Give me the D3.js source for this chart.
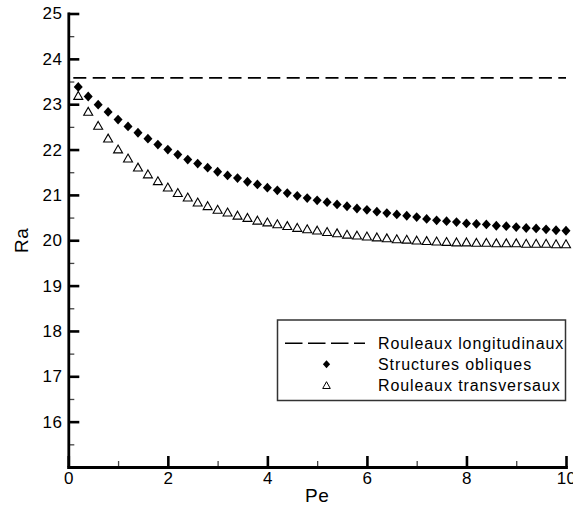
<!DOCTYPE html>
<html>
<head>
<meta charset="utf-8">
<script src="https://cdn.jsdelivr.net/npm/d3@7"></script>
<style>
  body { margin: 0; background: #fff; }
  svg { display: block; font-family: "Liberation Sans", Arial, Helvetica, sans-serif; }
</style>
</head>
<body>
<svg id="chart" width="573" height="508"></svg>
<script>
// data
const pe = [0.2, 0.4, 0.6, 0.8, 1.0, 1.2, 1.4, 1.6, 1.8, 2.0,
            2.2, 2.4, 2.6, 2.8, 3.0, 3.2, 3.4, 3.6, 3.8, 4.0,
            4.2, 4.4, 4.6, 4.8, 5.0, 5.2, 5.4, 5.6, 5.8, 6.0,
            6.2, 6.4, 6.6, 6.8, 7.0, 7.2, 7.4, 7.6, 7.8, 8.0,
            8.2, 8.4, 8.6, 8.8, 9.0, 9.2, 9.4, 9.6, 9.8, 10.0];
const raObliques = [23.38, 23.17, 22.99, 22.83, 22.66, 22.51, 22.37, 22.24, 22.11, 22.00,
                    21.89, 21.78, 21.69, 21.60, 21.51, 21.43, 21.37, 21.29, 21.23, 21.16,
                    21.10, 21.04, 20.98, 20.93, 20.88, 20.84, 20.79, 20.75, 20.70, 20.67,
                    20.63, 20.60, 20.57, 20.54, 20.51, 20.47, 20.44, 20.42, 20.40, 20.37,
                    20.36, 20.35, 20.32, 20.31, 20.29, 20.27, 20.26, 20.24, 20.22, 20.21];
const raTransversaux = [23.19, 22.84, 22.53, 22.25, 22.01, 21.81, 21.61, 21.46, 21.31, 21.17,
                        21.05, 20.95, 20.84, 20.76, 20.68, 20.62, 20.55, 20.50, 20.44, 20.40,
                        20.36, 20.32, 20.28, 20.25, 20.22, 20.19, 20.16, 20.13, 20.11, 20.09,
                        20.07, 20.05, 20.03, 20.02, 20.00, 19.99, 19.98, 19.97, 19.96, 19.96,
                        19.95, 19.95, 19.94, 19.94, 19.94, 19.93, 19.93, 19.93, 19.92, 19.92];
const raLongitudinaux = 23.58;

const xMajor = [0, 2, 4, 6, 8, 10];
const xMinor = [1, 3, 5, 7, 9];
const yMajor = [16, 17, 18, 19, 20, 21, 22, 23, 24, 25];
const yMinor = [15.5, 16.5, 17.5, 18.5, 19.5, 20.5, 21.5, 22.5, 23.5, 24.5];

const legendLabels = ["Rouleaux longitudinaux", "Structures obliques", "Rouleaux transversaux"];

function init() {
    const svg = d3.select("#chart");

    const x = d3.scaleLinear().domain([0, 10]).range([68.3, 566]);
    const y = d3.scaleLinear().domain([15, 25]).range([467, 13.5]);

    // minor ticks first, under everything
    svg.append("g")
        .attr("transform", "translate(68.3,0)")
        .call(d3.axisLeft(y).tickValues(yMinor).tickFormat("").tickSizeInner(-6).tickSizeOuter(0))
        .call(g => g.select(".domain").remove())
        .call(g => g.selectAll("line").attr("stroke", "#444").attr("stroke-width", 1.3));

    svg.append("g")
        .attr("transform", "translate(0,467)")
        .call(d3.axisBottom(x).tickValues(xMinor).tickFormat("").tickSizeInner(-6).tickSizeOuter(0))
        .call(g => g.select(".domain").remove())
        .call(g => g.selectAll("line").attr("stroke", "#444").attr("stroke-width", 1.3));

    // major axes
    const yAxis = svg.append("g")
        .attr("transform", "translate(68.3,0)")
        .call(d3.axisLeft(y).tickValues(yMajor).tickSizeInner(-11).tickSizeOuter(0).tickPadding(6));

    const xAxis = svg.append("g")
        .attr("transform", "translate(0,467)")
        .call(d3.axisBottom(x).tickValues(xMajor).tickFormat(d3.format("d")).tickSizeInner(-11).tickSizeOuter(0).tickPadding(5));

    [yAxis, xAxis].forEach(g => {
        g.select(".domain").attr("stroke", "#000").attr("stroke-width", 2.8).attr("stroke-linecap", "square");
        g.selectAll(".tick line").attr("stroke", "#000").attr("stroke-width", 2.6);
        g.selectAll(".tick text")
            .attr("fill", "#000")
            .style("font-size", "17px")
            .style("letter-spacing", "0.4px")
            .style("font-family", "'Liberation Sans', Arial, sans-serif");
    });

    // axis titles
    svg.append("text")
        .attr("x", x(5))
        .attr("y", 501.5)
        .attr("text-anchor", "middle")
        .style("font-size", "19px")
        .style("letter-spacing", "0.5px")
        .text("Pe");

    svg.append("text")
        .attr("transform", `translate(28.3,${y(20)}) rotate(-90)`)
        .attr("text-anchor", "middle")
        .style("font-size", "19px")
        .style("letter-spacing", "0.5px")
        .text("Ra");

    // dashed horizontal line
    svg.append("line")
        .attr("x1", x(0) + 5)
        .attr("x2", x(10))
        .attr("y1", y(raLongitudinaux))
        .attr("y2", y(raLongitudinaux))
        .attr("stroke", "#000")
        .attr("stroke-width", 1.6)
        .attr("stroke-dasharray", "13,6.4");

    const diamond = "M0,-4.9L4.5,0L0,4.9L-4.5,0Z";
    const triangle = "M0,-4.1L4.5,3.8L-4.5,3.8Z";

    svg.append("g")
        .selectAll("path")
        .data(pe.map((p, i) => ({ x: p, y: raTransversaux[i] })))
        .join("path")
        .attr("d", triangle)
        .attr("transform", d => `translate(${x(d.x)},${y(d.y)})`)
        .attr("fill", "#fff")
        .attr("stroke", "#000")
        .attr("stroke-width", 1.1);

    svg.append("g")
        .selectAll("path")
        .data(pe.map((p, i) => ({ x: p, y: raObliques[i] })))
        .join("path")
        .attr("d", diamond)
        .attr("transform", d => `translate(${x(d.x)},${y(d.y)})`)
        .attr("fill", "#000");

    // legend
    const legend = svg.append("g");
    legend.append("rect")
        .attr("x", 277.5)
        .attr("y", 320)
        .attr("width", 288)
        .attr("height", 80.5)
        .attr("fill", "#fff")
        .attr("stroke", "#333")
        .attr("stroke-width", 1.5);

    const rowY = [343.3, 364.3, 385.3];

    legend.append("line")
        .attr("x1", 285)
        .attr("x2", 365)
        .attr("y1", rowY[0])
        .attr("y2", rowY[0])
        .attr("stroke", "#000")
        .attr("stroke-width", 1.6)
        .attr("stroke-dasharray", "17.5,5.5");

    legend.append("path")
        .attr("d", "M0,-4L3.6,0L0,4L-3.6,0Z")
        .attr("transform", `translate(326.5,${rowY[1]})`)
        .attr("fill", "#000");

    legend.append("path")
        .attr("d", "M0,-3.6L3.8,3.2L-3.8,3.2Z")
        .attr("transform", `translate(326.5,${rowY[2]})`)
        .attr("fill", "#fff")
        .attr("stroke", "#000")
        .attr("stroke-width", 1);

    legend.selectAll("text")
        .data(legendLabels)
        .join("text")
        .attr("x", 378)
        .attr("y", (d, i) => rowY[i] + 5.2)
        .style("font-size", "16px")
        .style("letter-spacing", "0.9px")
        .attr("fill", "#000")
        .text(d => d);
}

window.onload = init;
</script>
</body>
</html>
